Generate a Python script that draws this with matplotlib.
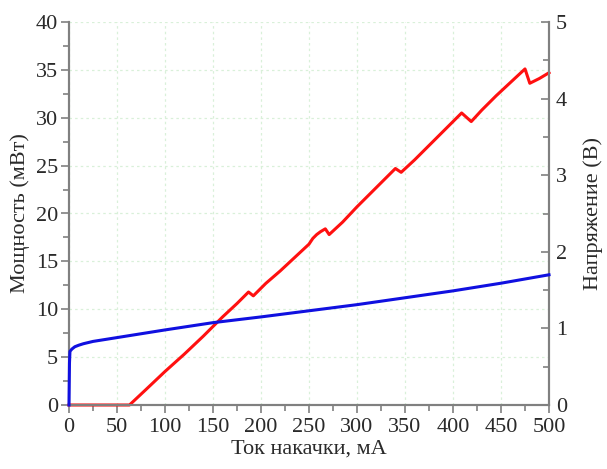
import matplotlib
matplotlib.use("Agg")
import matplotlib.pyplot as plt
from matplotlib.ticker import MultipleLocator

plt.rcParams['font.family'] = ['Liberation Serif', 'DejaVu Serif']

# Power (left axis, mW) vs pump current (mA)
red_I = [0, 63, 80, 100, 120, 140, 160, 175, 187, 192, 205, 220, 235, 250, 254, 258,
         262, 267, 271, 285, 300, 320, 340, 346, 360, 380, 395, 409, 419, 430, 445,
         460, 475, 480, 490, 500]
red_P = [0, 0, 1.6, 3.5, 5.3, 7.2, 9.2, 10.6, 11.8, 11.4, 12.7, 14.0, 15.4, 16.8, 17.4, 17.8,
         18.1, 18.4, 17.8, 19.1, 20.7, 22.7, 24.7, 24.3, 25.6, 27.6, 29.1, 30.5, 29.6, 30.8, 32.3,
         33.7, 35.1, 33.6, 34.1, 34.7]

# Voltage (right axis, V) vs pump current (mA)
blue_I = [0, 0.5, 1, 3, 6, 10, 15, 25, 40, 60, 80, 100, 150, 200, 250, 300, 350, 400, 450, 500]
blue_V = [0, 0.55, 0.70, 0.73, 0.76, 0.78, 0.80, 0.83, 0.86, 0.90, 0.94, 0.98, 1.075, 1.15,
          1.23, 1.31, 1.40, 1.49, 1.59, 1.70]

x_label = "Ток накачки, мА"
y_left_label = "Мощность (мВт)"
y_right_label = "Напряжение (В)"

spine_c = "#808080"
text_c = "#2a2a2a"
fs = 16

fig = plt.figure(figsize=(6.07, 4.69), dpi=100)
ax = fig.add_axes([69/607, 1-405/469, 480/607, 383/469])
ax2 = ax.twinx()

ax.set_xlim(0, 500)
ax.set_ylim(0, 40)
ax2.set_ylim(0, 5)

ax.grid(True, which='major', color='#d9f0d9', linestyle=(0, (2, 2.5)), linewidth=0.9)
ax.set_axisbelow(True)

ax.plot(red_I, red_P, color='#ff1010', lw=2.2, zorder=3, clip_on=False)
ax2.plot(blue_I, blue_V, color='#1010e0', lw=2.2, zorder=3, clip_on=False)

for a in (ax, ax2):
    a.spines['top'].set_visible(False)
    for s in ('left', 'right', 'bottom'):
        a.spines[s].set_color(spine_c)
        a.spines[s].set_linewidth(1.5)

ax.xaxis.set_major_locator(MultipleLocator(50))
ax.xaxis.set_minor_locator(MultipleLocator(25))
ax.yaxis.set_major_locator(MultipleLocator(5))
ax.yaxis.set_minor_locator(MultipleLocator(2.5))
ax2.yaxis.set_major_locator(MultipleLocator(1))
ax2.yaxis.set_minor_locator(MultipleLocator(0.5))

ax.tick_params(axis='x', which='both', direction='out', colors=spine_c, labelcolor=text_c,
               labelsize=fs, pad=3)
ax.tick_params(axis='x', which='major', length=6, width=1.2)
ax.tick_params(axis='x', which='minor', length=4, width=1.2)
ax.tick_params(axis='y', which='both', direction='out', colors=spine_c, labelcolor=text_c,
               labelsize=fs, pad=2)
ax.tick_params(axis='y', which='major', length=6, width=1.2)
ax.tick_params(axis='y', which='minor', length=4, width=1.2)
ax2.tick_params(axis='y', which='both', direction='in', colors=spine_c, labelcolor=text_c,
                labelsize=fs, pad=5)
ax2.tick_params(axis='y', which='major', length=6, width=1.2)
ax2.tick_params(axis='y', which='minor', length=4, width=1.2)

ax.set_xlabel(x_label, fontsize=fs, color=text_c, labelpad=2)
ax.set_ylabel(y_left_label, fontsize=fs, color=text_c, labelpad=4)
ax2.set_ylabel(y_right_label, fontsize=fs, color=text_c, labelpad=12)

fig.savefig("out.png", dpi=100)
